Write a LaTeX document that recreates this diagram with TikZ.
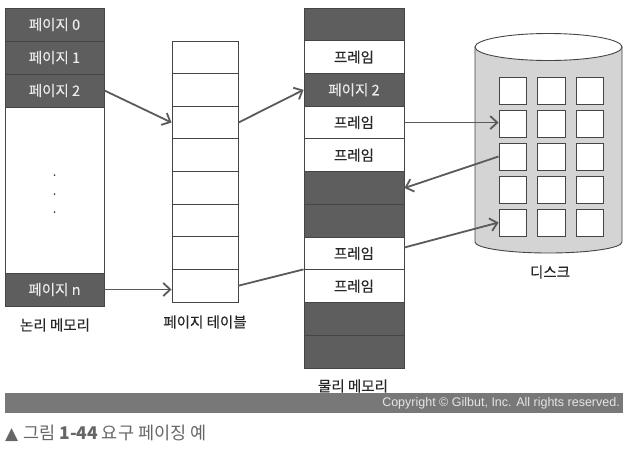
\documentclass[tikz,border=0pt]{standalone}
\usepackage{fontspec}
\setmainfont{Noto Sans CJK KR}
\newfontfamily\medfont[FakeBold=0.35]{Noto Sans CJK KR}
\newfontfamily\copyfont{Liberation Sans}
\newfontfamily\symfont{DejaVu Sans}
\usetikzlibrary{arrows.meta,calc}
\definecolor{darkcell}{HTML}{5E5E5E}
\definecolor{bordercol}{HTML}{454545}
\definecolor{arrowcol}{HTML}{5A5A5A}
\definecolor{cylfill}{HTML}{D4D4D4}
\definecolor{bannercol}{HTML}{787878}
\definecolor{captioncol}{HTML}{666666}
\tikzset{
  cell/.style={draw=bordercol, line width=0.9pt, inner sep=0pt, font=\medfont\fontsize{14.5}{16}\selectfont, text=black!85},
  darkc/.style={cell, fill=darkcell, text=white!92!black},
  whitec/.style={cell, fill=white},
  lmem/.style={minimum width=99pt, minimum height=33pt},
  ptab/.style={whitec, minimum width=66pt, minimum height=32.625pt},
  pmem/.style={minimum width=100pt, minimum height=32.73pt},
  dsq/.style={draw=bordercol, fill=white, line width=0.9pt, minimum width=27.5pt, minimum height=27pt, inner sep=0pt},
  conn/.style={draw=arrowcol, line width=1.8pt},
  arr/.style={conn, -{Straight Barb[length=7pt,width=13pt,line width=1.8pt]}},
  lbl/.style={font=\medfont\fontsize{14.5}{16}\selectfont, text=black!85, inner sep=0pt}
}
\begin{document}
\begin{tikzpicture}[x=1pt,y=-1pt]
\useasboundingbox (0,0) rectangle (623,453);
% logical memory
\node[darkc, lmem] (l0) at (54.5,24.5) {페이지 0};
\node[darkc, lmem] (l1) at (54.5,57.5) {페이지 1};
\node[darkc, lmem] (l2) at (54.5,90.5) {페이지 2};
\node[whitec, minimum width=99pt, minimum height=166pt] (lw) at (54.5,190) {};
\node[darkc, lmem] (ln) at (54.5,289.5) {페이지 n};
\foreach \yy/\nm in {175/da,194/db,212/dc}
  \fill[black!70] (54.5,\yy) circle (1pt) coordinate (\nm);
\node[lbl] (llbl) at (55,325) {논리 메모리};
% page table
\foreach \i in {0,...,7}
  \node[ptab] (pt\i) at (205,{41+(\i+0.5)*32.625}) {};
\node[lbl] (ptlbl) at (205,322) {페이지 테이블};
% physical memory
\foreach \i/\st/\tx in {0/darkc/{},1/whitec/프레임,2/darkc/페이지 2,3/whitec/프레임,4/whitec/프레임,5/darkc/{},6/darkc/{},7/whitec/프레임,8/whitec/프레임,9/darkc/{},10/darkc/{}}
  \node[\st, pmem] (pm\i) at (354,{8+(\i+0.5)*32.73}) {\tx};
\node[lbl] (pmlbl) at (353,386) {물리 메모리};
% disk cylinder
\path[draw=bordercol, line width=0.9pt, fill=cylfill]
  (475,47) -- (475,242) arc[start angle=180, end angle=360, x radius=73.5pt, y radius=11pt] -- (622,47) -- cycle;
\path[draw=bordercol, line width=0.9pt, fill=white] (548.5,47) ellipse [x radius=73.5pt, y radius=13.5pt];
\foreach \r in {0,...,4}
  \foreach \c/\xx in {0/512.75,1/551.25,2/589.75}
    \node[dsq] (d\r\c) at (\xx,{90.5+\r*33}) {};
\node[lbl] (dlbl) at (550,272) {디스크};
% connectors
\draw[arr] (l2.east) -- (pt2.west);
\draw[arr] (ln.east) -- (ln.east -| pt7.west);
\draw[arr] (pt2.east) -- (pm2.west);
\draw[conn] (pt7.east) -- (pm8.north west);
\draw[arr] (pm3.east) -- (pm3.east -| d10.west);
\draw[arr] (d20.west) -- (pm5.east);
\draw[arr] ([yshift=6pt]pm7.east) -- (d40.west);
% banner
\fill[bannercol] (5,393) rectangle (623,413);
\node[anchor=east, inner sep=0pt, text=white!90!black, font=\copyfont\fontsize{12.5}{14}\selectfont] (copy) at (620,403.5) {Copyright \textcopyright{} Gilbut, Inc. All rights reserved.};
% caption
\node[anchor=west, inner sep=0pt, text=captioncol, font=\fontsize{17.5}{20}\selectfont] (cap) at (5,433) {{\symfont\fontsize{17}{20}\selectfont ▲}\hspace{5pt}그림 \textbf{1-44} 요구 페이징 예};
\end{tikzpicture}
\end{document}
